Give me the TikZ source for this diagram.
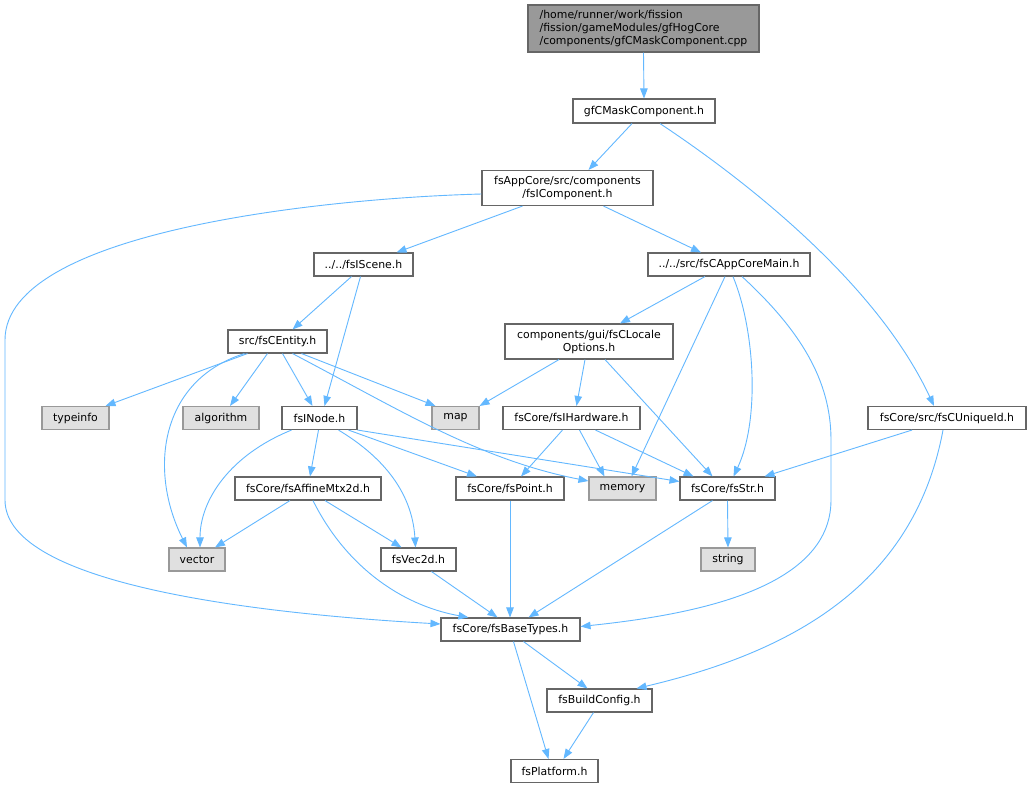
\documentclass[tikz,border=0pt]{standalone}
\usepackage{fontspec}
\setmainfont{DejaVu Sans}
\usetikzlibrary{arrows.meta}
\definecolor{edgec}{HTML}{63B8FF}
\definecolor{bordc}{HTML}{666666}
\definecolor{gbord}{HTML}{999999}
\definecolor{gfill}{HTML}{E0E0E0}
\definecolor{tfill}{HTML}{999999}
\begin{document}
\begin{tikzpicture}[x=1pt,y=-1pt,
  box/.style={draw=bordc, line width=1.1pt, fill=white, inner sep=0pt, align=center,
    font=\fontsize{10.9}{13}\selectfont, minimum height=23pt},
  sys/.style={box, draw=gbord, fill=gfill},
  root/.style={box, fill=tfill, align=left},
  edge/.style={draw=edgec, line width=0.9pt, -{Triangle[length=10pt,width=7.5pt]}}]
\useasboundingbox[fill=white] (0,0) rectangle (1031,788);

\node[root, minimum width=231pt, minimum height=47pt] (top) at (643.5,28.5) {/home/runner/work/fission\\/fission/gameModules/gfHogCore\\/components/gfCMaskComponent.cpp};
\node[box, minimum width=142pt, minimum height=24pt] (gfc) at (644,111) {gfCMaskComponent.h};
\node[box, minimum width=171pt, minimum height=35pt] (comp) at (567.5,188) {fsAppCore/src/components\\/fsIComponent.h};
\node[box, minimum width=99pt] (scene) at (363.5,264.5) {../../fsIScene.h};
\node[box, minimum width=162pt] (appmain) at (729,264.5) {../../src/fsCAppCoreMain.h};
\node[box, minimum width=99pt] (entity) at (277.5,341.5) {src/fsCEntity.h};
\node[box, minimum width=168pt, minimum height=35pt] (locale) at (589,341.5) {components/gui/fsCLocale\\Options.h};
\node[sys, minimum width=67pt] (typeinfo) at (75.5,418) {typeinfo};
\node[sys, minimum width=76pt] (algorithm) at (221,418) {algorithm};
\node[box, minimum width=75pt] (inode) at (319.5,418) {fsINode.h};
\node[sys, minimum width=47pt] (map) at (455.5,418) {map};
\node[box, minimum width=137pt] (hardware) at (571.5,418) {fsCore/fsIHardware.h};
\node[box, minimum width=158pt] (uniqueid) at (947,418) {fsCore/src/fsCUniqueId.h};
\node[box, minimum width=146pt] (affine) at (308,488.5) {fsCore/fsAffineMtx2d.h};
\node[box, minimum width=108pt] (point) at (510,488.5) {fsCore/fsPoint.h};
\node[sys, minimum width=67pt] (memory) at (622.5,488.5) {memory};
\node[box, minimum width=95pt] (str) at (727.5,488.5) {fsCore/fsStr.h};
\node[sys, minimum width=56pt] (vector) at (197,559.5) {vector};
\node[box, minimum width=75pt] (vec2d) at (418.5,559.5) {fsVec2d.h};
\node[sys, minimum width=54pt] (string) at (728,559.5) {string};
\node[box, minimum width=139pt] (basetypes) at (510.5,629.5) {fsCore/fsBaseTypes.h};
\node[box, minimum width=105pt] (buildconfig) at (599.5,700.5) {fsBuildConfig.h};
\node[box, minimum width=87pt] (platform) at (554.5,771) {fsPlatform.h};

% edges
\draw[edge] (top.south) -- (gfc.north);
\draw[edge] ([xshift=-12pt]gfc.south) -- ([xshift=21pt]comp.north);
\draw[edge] ([xshift=16pt]gfc.south) .. controls (760,190) and (880,290) .. ([xshift=-13pt]uniqueid.north);
\draw[edge] ([yshift=-6pt]comp.west) .. controls (330,198) and (5,230) .. (5,340) -- (5,500) .. controls (5,580) and (230,612) .. ([yshift=5.5pt]basetypes.west);
\draw[edge] ([xshift=-45pt]comp.south) -- ([xshift=33pt]scene.north);
\draw[edge] ([xshift=36pt]comp.south) -- ([xshift=-28pt]appmain.north);
\draw[edge] ([xshift=-12pt]scene.south) -- ([xshift=15pt]entity.north);
\draw[edge] ([xshift=-3pt]scene.south) -- ([xshift=5pt]inode.north);
\draw[edge] ([xshift=-30pt]entity.south) -- ([xshift=30pt]typeinfo.north);
\draw[edge] ([xshift=-33pt]entity.south) .. controls (160,380) and (148,470) .. ([xshift=-10pt]vector.north);
\draw[edge] ([xshift=-10pt]entity.south) -- ([xshift=9pt]algorithm.north);
\draw[edge] ([xshift=5pt]entity.south) -- ([xshift=-7pt]inode.north);
\draw[edge] ([xshift=24pt]entity.south) -- ([xshift=-20pt]map.north);
\draw[edge] ([xshift=15pt]entity.south) .. controls (400,410) and (480,460) .. ([yshift=7.5pt]memory.west);
\draw[edge] ([xshift=-28pt]inode.south) .. controls (230,455) and (200,500) .. ([xshift=3pt]vector.north);
\draw[edge] ([xshift=-1pt]inode.south) -- ([xshift=2pt]affine.north);
\draw[edge] ([xshift=19pt]inode.south) .. controls (380,455) and (412,490) .. ([xshift=-3pt]vec2d.north);
\draw[edge] ([xshift=29pt]inode.south) -- ([xshift=-33pt]point.north);
\draw[edge] (inode.south east) -- ([yshift=7pt]str.west);
\draw[edge] ([xshift=-18pt]affine.south) -- ([xshift=18pt]vector.north);
\draw[edge] ([xshift=17pt]affine.south) -- ([xshift=-17pt]vec2d.north);
\draw[edge] ([xshift=5pt]affine.south) .. controls (345,565) and (400,605) .. ([xshift=-42pt]basetypes.north);
\draw[edge] ([xshift=13pt]vec2d.south) -- ([xshift=-13pt]basetypes.north);
\draw[edge] (point.south) -- (point.south |- basetypes.north);
\draw[edge] ([xshift=-15pt]str.south) -- ([xshift=18pt]basetypes.north);
\draw[edge] (str.south) -- (string.north);
\draw[edge] ([xshift=-24pt]appmain.south) -- ([xshift=31pt]locale.north);
\draw[edge] ([xshift=-4pt]appmain.south) -- ([xshift=9pt]memory.north);
\draw[edge] ([xshift=4pt]appmain.south) .. controls (755,330) and (760,420) .. ([xshift=6pt]str.north);
\draw[edge] ([xshift=13pt]appmain.south) .. controls (800,330) and (831,380) .. (831,440) -- (831,500) .. controls (831,590) and (690,615) .. ([yshift=3pt]basetypes.east);
\draw[edge] ([xshift=-30pt]locale.south) -- (map.north east);
\draw[edge] ([xshift=-4pt]locale.south) -- ([xshift=5pt]hardware.north);
\draw[edge] ([xshift=16pt]locale.south) -- ([xshift=-15pt]str.north);
\draw[edge] ([xshift=-9pt]hardware.south) -- ([xshift=11pt]point.north);
\draw[edge] ([xshift=8pt]hardware.south) -- ([xshift=-18pt]memory.north);
\draw[edge] ([xshift=24pt]hardware.south) -- ([xshift=-34pt]str.north);
\draw[edge] ([xshift=-35pt]uniqueid.south) -- ([xshift=37pt]str.north);
\draw[edge] ([xshift=-4pt]uniqueid.south) .. controls (915,580) and (800,650) .. ([xshift=37pt]buildconfig.north);
\draw[edge] ([xshift=13pt]basetypes.south) -- ([xshift=-12pt]buildconfig.north);
\draw[edge] ([xshift=3pt]basetypes.south) -- ([xshift=-6pt]platform.north);
\draw[edge] ([xshift=-6pt]buildconfig.south) -- ([xshift=9pt]platform.north);
\end{tikzpicture}
\end{document}
